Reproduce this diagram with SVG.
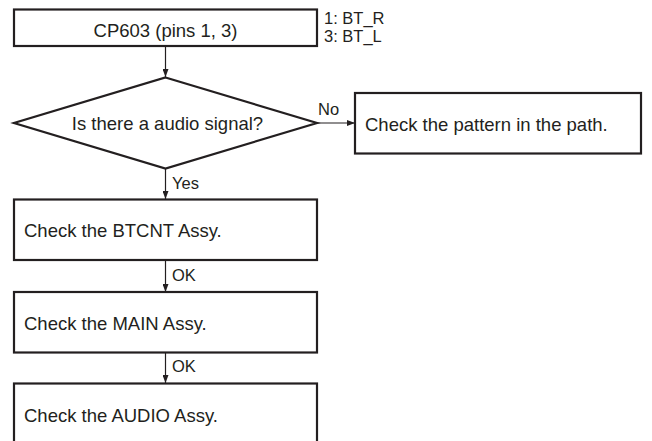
<svg xmlns="http://www.w3.org/2000/svg" width="652" height="441" viewBox="0 0 652 441">
<style>
.box{fill:#fff;stroke:#231f20;stroke-width:2.2}
.t{font-family:"Liberation Sans",Arial,sans-serif;font-size:18.5px;fill:#231f20}
.s{font-family:"Liberation Sans",Arial,sans-serif;font-size:16.5px;fill:#231f20}
.c{stroke:#231f20;stroke-width:1.2;fill:none}
</style>
<defs>
<marker id="ah" viewBox="0 0 8 6" refX="8" refY="3" markerWidth="8" markerHeight="6" markerUnits="userSpaceOnUse" orient="auto">
<path d="M0,0 L8,3 L0,6 Z" fill="#231f20"/>
</marker>
</defs>
<rect width="652" height="441" fill="#fff"/>
<g id="connectors">
<line class="c" x1="165.5" y1="46" x2="165.5" y2="77" marker-end="url(#ah)"/>
<line class="c" x1="317" y1="123" x2="355" y2="123" marker-end="url(#ah)"/>
<line class="c" x1="165.5" y1="169" x2="165.5" y2="199" marker-end="url(#ah)"/>
<line class="c" x1="165.5" y1="260" x2="165.5" y2="292" marker-end="url(#ah)"/>
<line class="c" x1="165.5" y1="353" x2="165.5" y2="383" marker-end="url(#ah)"/>
<text class="s" x="318" y="115">No</text>
<text class="s" x="172" y="188.5">Yes</text>
<text class="s" x="172" y="281">OK</text>
<text class="s" x="172" y="372">OK</text>
</g>
<g id="start">
<rect class="box" x="14" y="9.5" width="303" height="36.5"/>
<text class="t" x="165.5" y="37" text-anchor="middle">CP603 (pins 1, 3)</text>
<text class="s" x="324" y="24">1: BT_R</text>
<text class="s" x="324" y="41.5">3: BT_L</text>
</g>
<g id="decision">
<polygon class="box" points="165.5,77.5 317,123 165.5,168.5 14,123"/>
<text class="t" x="167.5" y="130" text-anchor="middle">Is there a audio signal?</text>
</g>
<g id="pattern">
<rect class="box" x="355" y="93" width="286" height="60.5"/>
<text class="t" x="365" y="131">Check the pattern in the path.</text>
</g>
<g id="btcnt">
<rect class="box" x="14" y="199.5" width="303" height="60.5"/>
<text class="t" x="24" y="237">Check the BTCNT Assy.</text>
</g>
<g id="main">
<rect class="box" x="14" y="292" width="303" height="60.5"/>
<text class="t" x="24" y="329.5">Check the MAIN Assy.</text>
</g>
<g id="audio">
<rect class="box" x="14" y="383.5" width="303" height="70"/>
<text class="t" x="24" y="421.5">Check the AUDIO Assy.</text>
</g>
</svg>
